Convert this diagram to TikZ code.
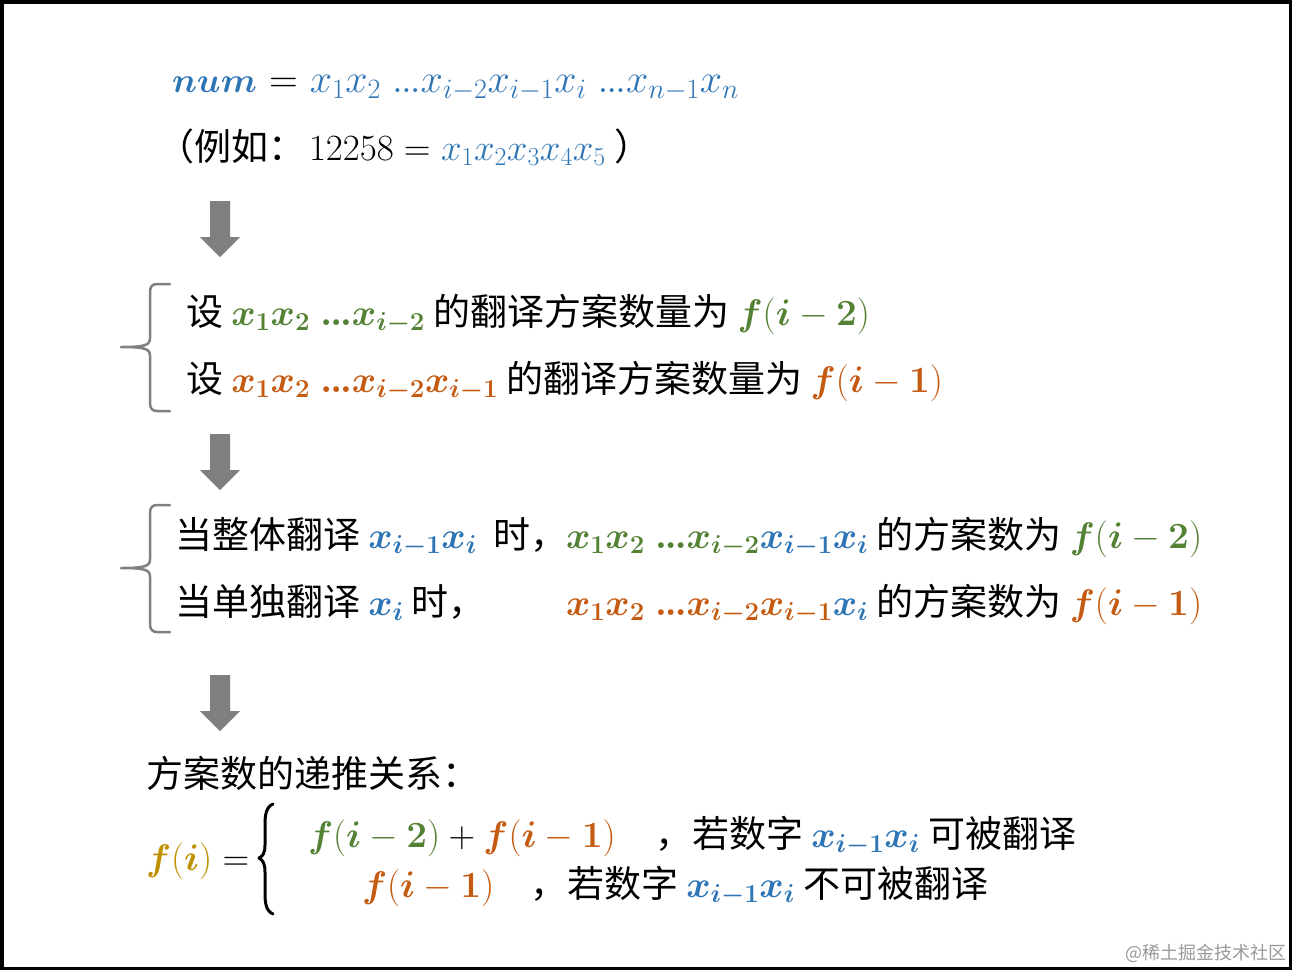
\RequirePackage{fix-cm}
\documentclass[tikz,border=0pt]{standalone}
\usepackage{amsmath,bm}
\usepackage{fontspec}
\newfontfamily\cjk{Noto Sans CJK SC}
\definecolor{cblue}{HTML}{2E75B6}
\definecolor{cgreen}{HTML}{548235}
\definecolor{corange}{HTML}{C55A11}
\definecolor{cgold}{HTML}{BF9000}
\definecolor{agray}{HTML}{7F7F7F}
\definecolor{bgray}{HTML}{808080}
\newcommand{\bx}[1]{\bm{#1}}
\newcommand{\dts}{\mathord{.\kern-2pt.\kern-2pt.}}
\newcommand{\mf}{\fontsize{37}{44}\selectfont}
\newcommand{\mfl}{\fontsize{40}{48}\selectfont}
\tikzset{
  txt/.style={inner sep=0pt, outer sep=0pt, anchor=base west, font=\cjk\fontsize{37}{44}\selectfont},
  mth/.style={inner sep=0pt, outer sep=0pt, anchor=base west, font=\mf},
  downarrow/.style={fill=agray, draw=none},
  graybrace/.style={draw=bgray, line width=2.5pt, line cap=round, line join=round},
  mathbrace/.style={draw=black, line width=3pt, line cap=round, line join=round},
  wm/.style={inner sep=0pt, outer sep=0pt, anchor=base west, font=\cjk\fontsize{18}{20}\selectfont, text=black!40}
}
\newcommand{\blockarrow}[1]{%
  \fill[downarrow] (210,#1) -- (230,#1) -- (230,#1+36) -- (240,#1+36) -- (220,#1+56) -- (200,#1+36) -- (210,#1+36) -- cycle;}
\newcommand{\sidebrace}[1]{%
  \draw[graybrace] (170,#1) -- (157,#1) .. controls (152,#1) and (150,#1+3) .. (150,#1+8) -- (150,#1+54) .. controls (150,#1+61) and (146,#1+63) .. (121,#1+63)
     .. controls (146,#1+63) and (150,#1+65) .. (150,#1+72) -- (150,#1+119) .. controls (150,#1+124) and (152,#1+127) .. (157,#1+127) -- (170,#1+127);}
\begin{document}
\begin{tikzpicture}[x=1pt,y=-1pt]
\useasboundingbox (0,0) rectangle (1292,970);
\fill[white] (0,0) rectangle (1292,970);
\draw[line width=3.5pt] (1.75,1.75) rectangle (1290.25,968.25);

% line 1
\node[mth] (l1) at (172,92) {\color{cblue}{\fontsize{35}{42}\selectfont$\bx{num}$}{\mfl$\ {\color{black}=}\ x_1x_2\;\dts x_{i-2}x_{i-1}x_i\;\dts x_{n-1}x_n$}};
% line 2
\node[txt] (l2) at (157,160) {（例如：\kern4pt{\mf$12258 = {\color{cblue}x_1x_2x_3x_4x_5}$}\ ）};

\blockarrow{201}

\sidebrace{284}
\node[txt] (l5) at (186,325) {设 {\mf\color{cgreen}$\bx{x_1x_2\;\dts x_{i-2}}$} 的翻译方案数量为 {\mf\color{cgreen}$\bx{f}(\bx{i}-\bx{2})$}};
\node[txt] (l6) at (186,392) {设 {\mf\color{corange}$\bx{x_1x_2\;\dts x_{i-2}x_{i-1}}$} 的翻译方案数量为 {\mf\color{corange}$\bx{f}(\bx{i}-\bx{1})$}};

\blockarrow{434}

\sidebrace{505}
\node[txt] (l9a) at (175,548) {当整体翻译 {\mf\color{cblue}$\bx{x_{i-1}x_i}$}\ \ 时，};
\node[txt] (l9b) at (566,548) {{\mf$\color{cgreen}\bx{x_1x_2\;\dts x_{i-2}}\color{cblue}\bx{x_{i-1}x_i}$} 的方案数为 {\mf\color{cgreen}$\bx{f}(\bx{i}-\bx{2})$}};
\node[txt] (l10a) at (175,615) {当单独翻译 {\mf\color{cblue}$\bx{x_i}$} 时，};
\node[txt] (l10b) at (566,615) {{\mf$\color{corange}\bx{x_1x_2\;\dts x_{i-2}x_{i-1}}\color{cblue}\bx{x_i}$} 的方案数为 {\mf\color{corange}$\bx{f}(\bx{i}-\bx{1})$}};

\blockarrow{675}

\node[txt] (l12) at (146,787) {方案数的递推关系：};
\node[mth] (fi) at (146,870) {$\color{cgold}\bx{f}(\bx{i})\color{black}=$};
\draw[mathbrace] (273,804) .. controls (266,807) and (265,815) .. (265,825) -- (265,845) .. controls (265,853) and (263,856) .. (259,858)
  .. controls (263,860) and (265,864) .. (265,872) -- (265,893) .. controls (265,903) and (266,911) .. (273,914);
\node[mth] (c1m) at (308,847) {$\color{cgreen}\bx{f}(\bx{i}-\bx{2})\color{black}+\color{corange}\bx{f}(\bx{i}-\bx{1})$};
\node[txt] (c1t) at (655,847) {，若数字 {\mf\color{cblue}$\bx{x_{i-1}x_i}$} 可被翻译};
\node[mth] (c2m) at (362,897) {$\color{corange}\bx{f}(\bx{i}-\bx{1})$};
\node[txt] (c2t) at (530,897) {，若数字 {\mf\color{cblue}$\bx{x_{i-1}x_i}$} 不可被翻译};

\node[wm] (wm) at (1125,959) {@稀土掘金技术社区};
\end{tikzpicture}
\end{document}
